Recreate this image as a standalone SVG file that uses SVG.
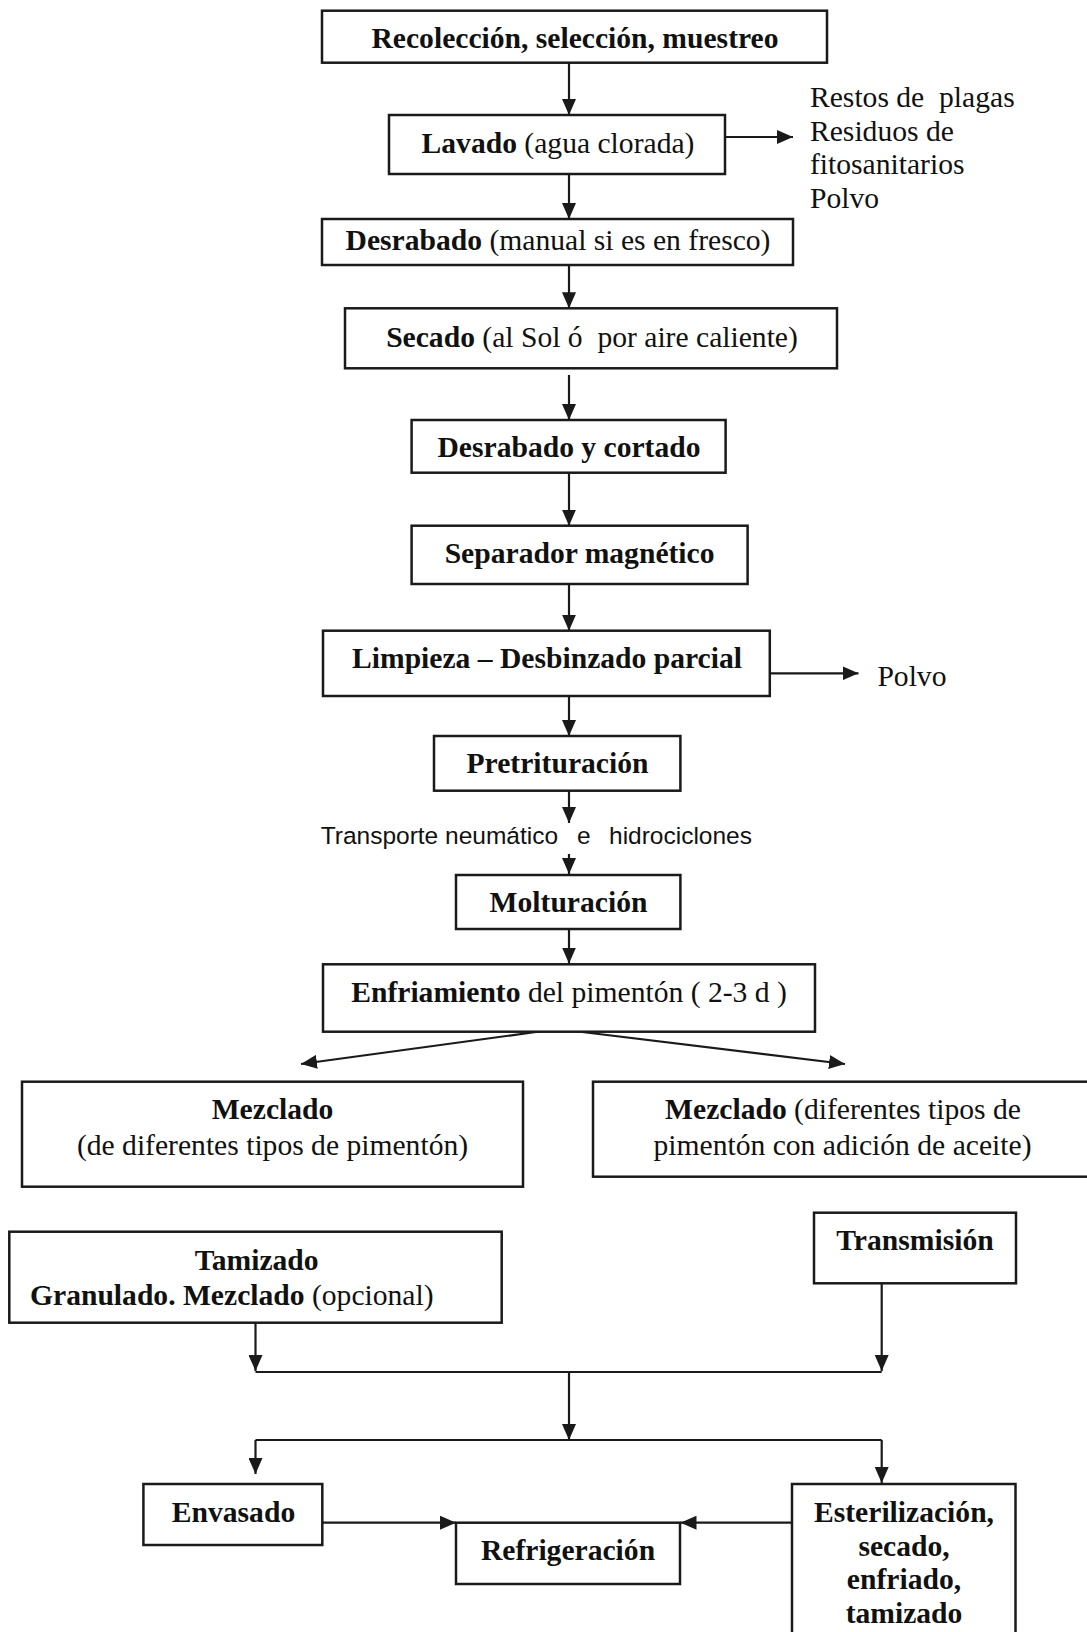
<svg xmlns="http://www.w3.org/2000/svg" width="1087" height="1632" viewBox="0 0 1087 1632">
<style>
  .box { fill: #fff; stroke: #1a1a1a; stroke-width: 2.5; }
  .t { font-family: "Liberation Serif", "Times New Roman", serif; font-size: 29.6px; fill: #111; }
  .m { text-anchor: middle; }
  .b { font-weight: bold; }
  .s { font-family: "Liberation Sans", Arial, sans-serif; font-size: 24.5px; fill: #111; }
  .c { fill: none; stroke: #1a1a1a; stroke-width: 2.2; }
  .ca { fill: none; stroke: #1a1a1a; stroke-width: 2.2; marker-end: url(#ah); }
</style>
<defs>
  <marker id="ah" markerUnits="userSpaceOnUse" markerWidth="16" markerHeight="14" refX="16" refY="7" orient="auto">
    <path d="M0,0 L16,7 L0,14 z" fill="#1a1a1a"/>
  </marker>
</defs>
<rect width="1087" height="1632" fill="#fff"/>

<g id="connectors">
  <line class="ca" x1="569" y1="62.7" x2="569" y2="115"/>
  <line class="ca" x1="725" y1="137" x2="793" y2="137"/>
  <line class="ca" x1="569" y1="174" x2="569" y2="219"/>
  <line class="ca" x1="569" y1="265" x2="569" y2="308.3"/>
  <line class="ca" x1="569" y1="375" x2="569" y2="420"/>
  <line class="ca" x1="569" y1="472.7" x2="569" y2="525.7"/>
  <line class="ca" x1="569" y1="584" x2="569" y2="630.7"/>
  <line class="ca" x1="770" y1="673.3" x2="858.5" y2="673.3"/>
  <line class="ca" x1="569" y1="696" x2="569" y2="736"/>
  <line class="ca" x1="569" y1="782" x2="569" y2="823"/>
  <line class="ca" x1="569" y1="854" x2="569" y2="874"/>
  <line class="ca" x1="569" y1="919" x2="569" y2="963.5"/>
  <line class="ca" x1="543" y1="1031" x2="301" y2="1064"/>
  <line class="ca" x1="574" y1="1031" x2="845" y2="1064"/>
  <line class="ca" x1="255.5" y1="1323" x2="255.5" y2="1371"/>
  <line class="ca" x1="881.7" y1="1283.3" x2="881.7" y2="1371"/>
  <line class="c" x1="255.5" y1="1372" x2="881.7" y2="1372"/>
  <line class="ca" x1="569" y1="1372" x2="569" y2="1440"/>
  <line class="c" x1="255.5" y1="1440" x2="881.7" y2="1440"/>
  <line class="ca" x1="255.5" y1="1440" x2="255.5" y2="1474"/>
  <line class="ca" x1="881.7" y1="1440" x2="881.7" y2="1483"/>
  <line class="ca" x1="322.3" y1="1522.7" x2="456" y2="1522.7"/>
  <line class="ca" x1="792" y1="1522.7" x2="680.5" y2="1522.7"/>
</g>

<g id="recoleccion">
  <rect class="box" x="322" y="10.7" width="505" height="52"/>
  <text class="t m b" x="575" y="48.3">Recolección, selección, muestreo</text>
</g>
<g id="lavado">
  <rect class="box" x="389" y="115" width="336" height="59"/>
  <text class="t m" x="558" y="153.3"><tspan class="b">Lavado</tspan> (agua clorada)</text>
</g>
<g id="residuos">
  <text class="t" x="810" y="106.7" xml:space="preserve">Restos de  plagas</text>
  <text class="t" x="810" y="140.5">Residuos de</text>
  <text class="t" x="810" y="174">fitosanitarios</text>
  <text class="t" x="810" y="208">Polvo</text>
</g>
<g id="desrabado">
  <rect class="box" x="322" y="219" width="471" height="46"/>
  <text class="t m" x="558" y="250"><tspan class="b">Desrabado</tspan> (manual si es en fresco)</text>
</g>
<g id="secado">
  <rect class="box" x="345" y="308.3" width="492" height="60"/>
  <text class="t m" x="592" y="346.7" xml:space="preserve"><tspan class="b">Secado</tspan> (al Sol ó  por aire caliente)</text>
</g>
<g id="desrabado-cortado">
  <rect class="box" x="411.6" y="420" width="314" height="52.7"/>
  <text class="t m b" x="569" y="456.7">Desrabado y cortado</text>
</g>
<g id="separador">
  <rect class="box" x="411.6" y="525.7" width="336" height="58.3"/>
  <text class="t m b" x="579.6" y="563.3">Separador magnético</text>
</g>
<g id="limpieza">
  <rect class="box" x="323" y="630.7" width="446.8" height="65.3"/>
  <text class="t m b" x="547" y="668.3">Limpieza – Desbinzado parcial</text>
</g>
<g id="polvo">
  <text class="t" x="877.4" y="686">Polvo</text>
</g>
<g id="pretrituracion">
  <rect class="box" x="434" y="736" width="246.4" height="54.7"/>
  <text class="t m b" x="557.5" y="773.3">Pretrituración</text>
</g>
<g id="transporte">
  <text class="s" x="320.7" y="844">Transporte neumático</text>
  <text class="s" x="577" y="844">e</text>
  <text class="s" x="609" y="844">hidrociclones</text>
</g>
<g id="molturacion">
  <rect class="box" x="456" y="875" width="224.4" height="54"/>
  <text class="t m b" x="568.5" y="911.7">Molturación</text>
</g>
<g id="enfriamiento">
  <rect class="box" x="323" y="964.3" width="492" height="67.4"/>
  <text class="t m" x="569" y="1001.7"><tspan class="b">Enfriamiento</tspan> del pimentón ( 2-3 d )</text>
</g>
<g id="mezclado-1">
  <rect class="box" x="22" y="1081.7" width="501" height="105"/>
  <text class="t m b" x="272.5" y="1119.3">Mezclado</text>
  <text class="t m" x="272.5" y="1155">(de diferentes tipos de pimentón)</text>
</g>
<g id="mezclado-2">
  <rect class="box" x="593" y="1081.7" width="500" height="95"/>
  <text class="t m" x="843" y="1119.3"><tspan class="b">Mezclado</tspan> (diferentes tipos de</text>
  <text class="t m" x="842.5" y="1155">pimentón con adición de aceite)</text>
</g>
<g id="tamizado">
  <rect class="box" x="9.3" y="1231.7" width="492.4" height="91"/>
  <text class="t m b" x="256.7" y="1270">Tamizado</text>
  <text class="t" x="30" y="1305"><tspan class="b">Granulado. Mezclado</tspan> (opcional)</text>
</g>
<g id="transmision">
  <rect class="box" x="814" y="1212.7" width="202" height="70.6"/>
  <text class="t m b" x="915" y="1250">Transmisión</text>
</g>
<g id="envasado">
  <rect class="box" x="143.4" y="1484" width="178.9" height="61"/>
  <text class="t m b" x="233.5" y="1521.7">Envasado</text>
</g>
<g id="refrigeracion">
  <rect class="box" x="456" y="1522.7" width="224" height="61.3"/>
  <text class="t m b" x="568" y="1560">Refrigeración</text>
</g>
<g id="esterilizacion">
  <rect class="box" x="792" y="1484" width="223.5" height="160"/>
  <text class="t m b" x="904" y="1522">Esterilización,</text>
  <text class="t m b" x="904" y="1555.5">secado,</text>
  <text class="t m b" x="904" y="1589">enfriado,</text>
  <text class="t m b" x="904" y="1622.5">tamizado</text>
</g>
</svg>
